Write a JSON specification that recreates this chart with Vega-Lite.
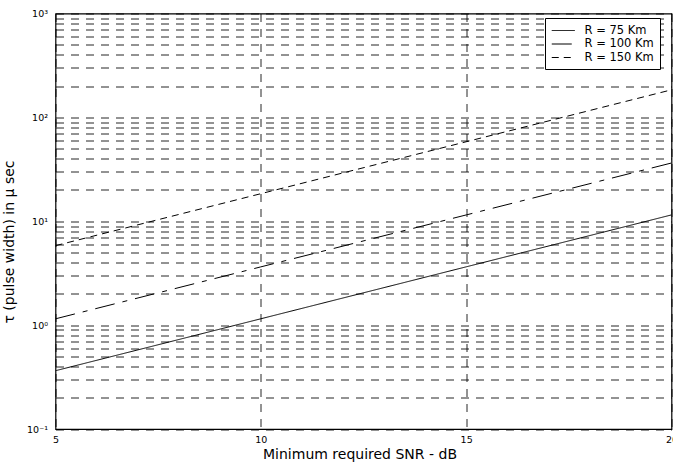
{
  "$schema": "https://vega.github.io/schema/vega-lite/v6.json",
  "autosize": "none",
  "width": 616,
  "height": 415.5,
  "padding": {"left": 55.5, "top": 13.5, "right": 1.5, "bottom": 35},
  "background": "white",
  "config": {
    "font": "DejaVu Sans",
    "view": {"stroke": "#000", "strokeWidth": 1.2},
    "legend": {"strokeWidth": 1},
    "axis": {
      "domain": false,
      "ticks": false,
      "grid": true,
      "gridColor": "#000",
      "gridOpacity": 0.85,
      "gridDash": [8, 7],
      "gridWidth": 1,
      "labelColor": "#000",
      "labelFontSize": 9.5,
      "titleColor": "#000",
      "titleFontSize": 14,
      "titleFontWeight": "normal"
    }
  },
  "data": {
    "values": [
      {"snr": 5, "tau": 0.364, "range": "R = 75 Km"},
      {"snr": 10, "tau": 1.151, "range": "R = 75 Km"},
      {"snr": 15, "tau": 3.64, "range": "R = 75 Km"},
      {"snr": 20, "tau": 11.51, "range": "R = 75 Km"},
      {"snr": 5, "tau": 1.15, "range": "R = 100 Km"},
      {"snr": 10, "tau": 3.638, "range": "R = 100 Km"},
      {"snr": 15, "tau": 11.5, "range": "R = 100 Km"},
      {"snr": 20, "tau": 36.38, "range": "R = 100 Km"},
      {"snr": 5, "tau": 5.82, "range": "R = 150 Km"},
      {"snr": 10, "tau": 18.42, "range": "R = 150 Km"},
      {"snr": 15, "tau": 58.24, "range": "R = 150 Km"},
      {"snr": 20, "tau": 184.2, "range": "R = 150 Km"}
    ]
  },
  "mark": {"type": "line", "color": "#000", "strokeWidth": 1, "clip": true},
  "encoding": {
    "x": {
      "field": "snr",
      "type": "quantitative",
      "scale": {"domain": [5, 20], "nice": false, "zero": false},
      "axis": {
        "values": [5, 10, 15, 20],
        "labelFlush": false,
        "title": "Minimum required SNR - dB",
        "labelPadding": 5,
        "titlePadding": 4,
        "titleX": 304
      }
    },
    "y": {
      "field": "tau",
      "type": "quantitative",
      "scale": {"type": "log", "domain": [0.1, 1000], "nice": false},
      "axis": {
        "values": [0.1, 0.2, 0.3, 0.4, 0.5, 0.6, 0.7, 0.8, 0.9, 1, 2, 3, 4, 5, 6, 7, 8, 9, 10, 20, 30, 40, 50, 60, 70, 80, 90, 100, 200, 300, 400, 500, 600, 700, 800, 900, 1000],
        "labelExpr": "datum.value == 0.1 ? '10⁻¹' : datum.value == 1 ? '10⁰' : datum.value == 10 ? '10¹' : datum.value == 100 ? '10²' : datum.value == 1000 ? '10³' : ''",
        "labelPadding": 8,
        "title": "τ (pulse width) in μ sec",
        "titlePadding": 10,
        "titleY": 228
      }
    },
    "strokeDash": {
      "field": "range",
      "type": "nominal",
      "scale": {
        "domain": ["R = 75 Km", "R = 100 Km", "R = 150 Km"],
        "range": [[1, 0], [20, 8, 5, 8], [7, 5]]
      },
      "legend": {
        "title": null,
        "orient": "none",
        "legendX": 489.5,
        "legendY": 4.5,
        "symbolType": "M-1,0H3",
        "symbolSize": 132,
        "symbolStrokeWidth": 1,
        "symbolStrokeColor": "#000",
        "symbolFillColor": "transparent",
        "labelFont": "DejaVu Sans",
        "labelFontSize": 11.5,
        "labelColor": "#000",
        "labelOffset": 20.5,
        "rowPadding": 1.5,
        "padding": 6,
        "fillColor": "#fff",
        "strokeColor": "#000"
      }
    }
  }
}
